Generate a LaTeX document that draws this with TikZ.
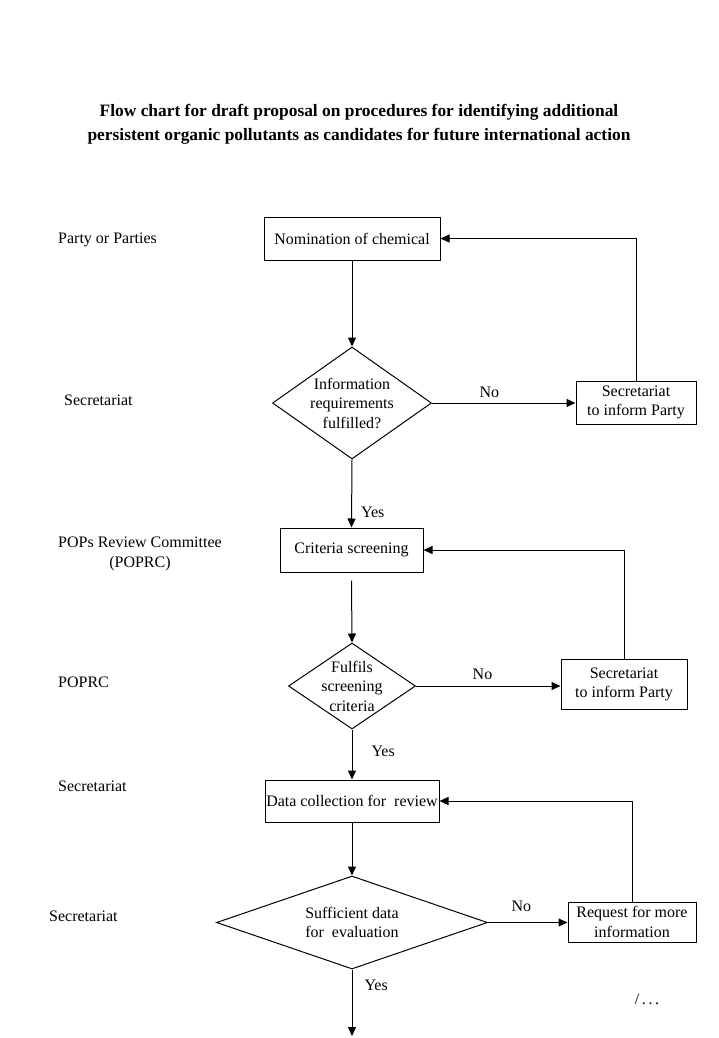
\documentclass[tikz,border=0pt]{standalone}
\usepackage{fontspec}
\setmainfont{Liberation Serif}
\usetikzlibrary{arrows.meta,shapes.geometric}
\begin{document}
\begin{tikzpicture}[x=1pt,y=-1pt,
  every node/.style={font=\fontsize{16}{19.5}\selectfont, inner sep=0pt},
  box/.style={draw, line width=1pt, align=center},
  dia/.style={draw, diamond, line width=1pt, inner sep=0pt},
  lab/.style={anchor=west},
  arr/.style={line width=1pt, -{Triangle[length=9pt,width=8pt]}}]
\fill[white] (0,0) rectangle (719,1038);
\useasboundingbox (0,0) rectangle (719,1038);

\node[font=\fontsize{17.4}{24}\selectfont\bfseries, align=center] (title) at (359,124)
  {Flow chart for draft proposal on procedures for identifying additional\\persistent organic pollutants as candidates for future international action};

% left labels
\node[lab] (l1) at (58,240) {Party or Parties};
\node[lab] (l2) at (64,400) {Secretariat};
\node[align=center] (l3) at (140,554) {POPs Review Committee\\(POPRC)};
\node[lab] (l4) at (58,682) {POPRC};
\node[lab] (l5) at (58,786) {Secretariat};
\node[lab] (l6) at (49,916) {Secretariat};

% boxes
\node[box, minimum width=176, minimum height=43] (b1) at (352,238.5) {Nomination of chemical};
\node[box, minimum width=120, minimum height=43] (b2) at (636,402.5) {Secretariat\\to inform Party};
\node[box, minimum width=143, minimum height=44] (b3) at (351.5,550) {Criteria screening};
\node[box, minimum width=126, minimum height=50] (b4) at (624,684.5) {Secretariat\\to inform Party};
\node[box, minimum width=174, minimum height=42] (b5) at (352,801) {Data collection for~ review};
\node[box, minimum width=128, minimum height=40] (b6) at (632,922) {Request for more\\information};

% diamonds
\node[dia, minimum width=159, minimum height=112] (d1) at (352,403) {};
\node[align=center] (t1) at (d1) {Information\\requirements\\fulfilled?};
\node[dia, minimum width=127, minimum height=86] (d2) at (352,686) {};
\node[align=center] (t2) at (d2) {Fulfils\\screening\\criteria};
\node[dia, minimum width=271, minimum height=93] (d3) at (352,922.5) {};
\node[align=center] (t3) at (d3) {Sufficient data\\for~ evaluation};

\coordinate (end) at (352,1036);
\node (cont) at (647,999) {/\,.\,.\,.};

% connectors
\draw[arr] (b1.south) -- (d1.north);
\draw[arr] (d1.east) -- node[pos=0.4, above=5pt] {No} (d1.east -| b2.west);
\draw[arr] (b2.north) |- (b1.east);
\draw[arr] (d1.south) -- node[pos=0.78, right=9pt] {Yes} (b3.north);

\draw[arr] ([yshift=-8pt]b3.south) -- (d2.north);
\draw[arr] (d2.east) -- node[pos=0.46, above=6pt] {No} (d2.east -| b4.west);
\draw[arr] (b4.north) |- (b3.east);
\draw[arr] (d2.south) -- node[pos=0.43, right=19pt] {Yes} (b5.north);

\draw[arr] (b5.south) -- (d3.north);
\draw[arr] (d3.east) -- node[pos=0.42, above=10pt] {No} (d3.east -| b6.west);
\draw[arr] (b6.north) |- (b5.east);
\draw[arr] (d3.south) -- node[pos=0.24, right=12pt] {Yes} (end);
\end{tikzpicture}
\end{document}
